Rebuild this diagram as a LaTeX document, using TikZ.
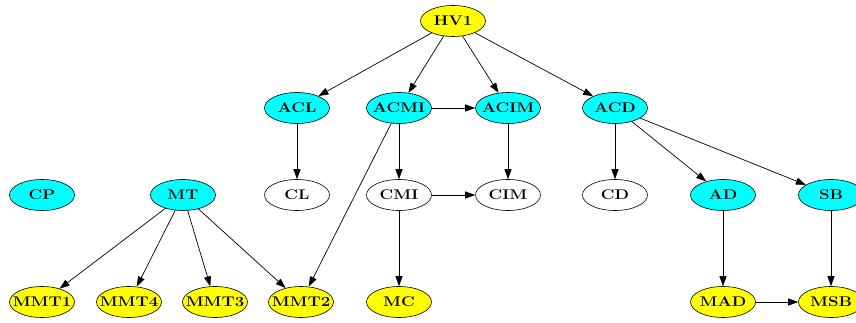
\documentclass[tikz,border=0pt]{standalone}
\usepackage{fontspec}
\usetikzlibrary{arrows.meta,shapes.geometric}
\newfontfamily\nodefont[FakeStretch=1.2]{Latin Modern Roman}
\definecolor{gvcyan}{RGB}{0,255,255}
\definecolor{gvyellow}{RGB}{255,255,0}
\newcommand\gvlbl[1]{\makebox[0pt][c]{#1}}
\begin{document}
\begin{tikzpicture}[x=1pt,y=-1pt,
  gv/.style={ellipse,draw=black,line width=0.6pt,minimum width=65pt,minimum height=31pt,inner sep=0pt,font=\nodefont\bfseries\fontsize{14}{14}\selectfont},
  ylw/.style={gv,fill=gvyellow},
  cyn/.style={gv,fill=gvcyan},
  wht/.style={gv,fill=white},
  edge/.style={draw=black,line width=0.7pt,-{Triangle[length=10pt,width=7pt]}}]
\useasboundingbox (0,0) rectangle (856,323);
\node[ylw] (HV1) at (453,21) {\gvlbl{HV1}};
\node[cyn] (ACL) at (297,108) {\gvlbl{ACL}};
\node[cyn] (ACMI) at (399,108) {\gvlbl{ACMI}};
\node[cyn] (ACIM) at (508,108) {\gvlbl{ACIM}};
\node[cyn] (ACD) at (615,108) {\gvlbl{ACD}};
\node[cyn] (CP) at (42,195) {\gvlbl{CP}};
\node[cyn] (MT) at (183,195) {\gvlbl{MT}};
\node[wht] (CL) at (297,195) {\gvlbl{CL}};
\node[wht] (CMI) at (399,195) {\gvlbl{CMI}};
\node[wht] (CIM) at (508,195) {\gvlbl{CIM}};
\node[wht] (CD) at (615,195) {\gvlbl{CD}};
\node[cyn] (AD) at (723,195) {\gvlbl{AD}};
\node[cyn] (SB) at (831,195) {\gvlbl{SB}};
\node[ylw] (MMT1) at (42,302) {\gvlbl{MMT1}};
\node[ylw] (MMT4) at (129,302) {\gvlbl{MMT4}};
\node[ylw] (MMT3) at (215,302) {\gvlbl{MMT3}};
\node[ylw] (MMT2) at (301,302) {\gvlbl{MMT2}};
\node[ylw] (MC) at (399,302) {\gvlbl{MC}};
\node[ylw] (MAD) at (723,302) {\gvlbl{MAD}};
\node[ylw] (MSB) at (831,302) {\gvlbl{MSB}};
\draw[edge] (HV1) -- (ACL);
\draw[edge] (HV1) -- (ACMI);
\draw[edge] (HV1) -- (ACIM);
\draw[edge] (HV1) -- (ACD);
\draw[edge] (ACMI) -- (ACIM);
\draw[edge] (ACL) -- (CL);
\draw[edge] (ACMI) -- (CMI);
\draw[edge] (ACMI) -- (MMT2);
\draw[edge] (ACIM) -- (CIM);
\draw[edge] (CMI) -- (CIM);
\draw[edge] (CMI) -- (MC);
\draw[edge] (ACD) -- (CD);
\draw[edge] (ACD) -- (AD);
\draw[edge] (ACD) -- (SB);
\draw[edge] (AD) -- (MAD);
\draw[edge] (SB) -- (MSB);
\draw[edge] (MAD) -- (MSB);
\draw[edge] (MT) -- (MMT1);
\draw[edge] (MT) -- (MMT4);
\draw[edge] (MT) -- (MMT3);
\draw[edge] (MT) -- (MMT2);
\end{tikzpicture}
\end{document}
